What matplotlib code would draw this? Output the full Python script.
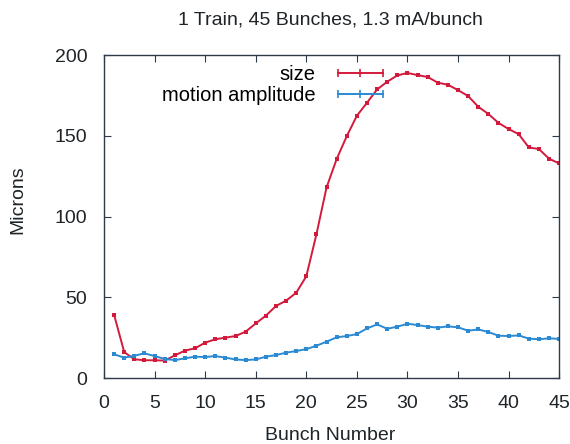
import numpy as np
import matplotlib
matplotlib.use('Agg')
import matplotlib.pyplot as plt
from matplotlib.lines import Line2D

# ── Data ─────────────────────────────────────────────────────────
bunch = list(range(1, 46))
size = [39.0, 16.0, 11.6, 11.0, 11.0, 10.8, 14.0, 17.0, 18.4, 21.9,
        24.0, 25.0, 26.0, 28.7, 33.8, 38.6, 44.6, 47.9, 52.8, 63.0,
        89.0, 118.0, 135.6, 149.8, 162.4, 170.5, 178.7, 183.5, 187.4, 188.9,
        187.6, 186.4, 182.9, 181.6, 178.3, 174.6, 168.0, 163.5, 158.0, 154.2,
        151.0, 142.8, 141.8, 135.8, 132.9]
motion = [14.7, 12.6, 13.8, 15.3, 13.6, 11.8, 11.1, 12.2, 13.2, 13.0,
          13.6, 12.6, 11.5, 11.1, 11.5, 13.2, 14.2, 15.7, 16.7, 17.9,
          20.0, 22.5, 25.2, 26.0, 27.2, 30.7, 33.2, 30.5, 31.8, 33.6,
          32.8, 31.8, 31.2, 32.0, 31.4, 29.3, 30.1, 28.5, 26.2, 26.0,
          26.4, 24.4, 24.0, 24.6, 24.2]
xticks = [0, 5, 10, 15, 20, 25, 30, 35, 40, 45]
yticks = [0, 50, 100, 150, 200]

RED = '#d41a3c'
BLUE = '#2b8ad2'
FRAME = '#2f3a48'
TXT = '#1e2428'
FS = 14

plt.rcParams['font.family'] = ['Liberation Sans', 'DejaVu Sans']

fig = plt.figure(figsize=(5.7, 4.44), dpi=100)
ax = fig.add_axes([0.1825, 0.1486, 0.7985, 0.7274])

ax.plot(bunch, size, color=RED, lw=1.4, marker='s', ms=2.6, mew=0)
ax.plot(bunch, motion, color=BLUE, lw=1.4, marker='s', ms=2.6, mew=0)

ax.set_xlim(0, 45)
ax.set_ylim(0, 200)
ax.set_xticks(xticks)
ax.set_yticks(yticks)
ax.tick_params(direction='in', top=True, right=True, length=5,
               labelsize=FS, color=FRAME, labelcolor=TXT, pad=12)
for s in ax.spines.values():
    s.set_color(FRAME)
    s.set_linewidth(1.0)

fig.text(330 / 570, 1 - 435 / 444, 'Bunch Number', ha='center', va='center',
         fontsize=FS, color=TXT)
fig.text(18 / 570, 1 - 200 / 444, 'Microns', ha='center', va='center',
         rotation=90, fontsize=FS, color=TXT)
fig.text(330 / 570, 1 - 20 / 444, '1 Train, 45 Bunches, 1.3 mA/bunch',
         ha='center', va='center', fontsize=FS, color=TXT)

# legend with gnuplot-like samples (caps at ends, tick in middle)
handles = [Line2D([], [], color=RED, lw=1.4, marker='|', ms=6, mew=1.2),
           Line2D([], [], color=BLUE, lw=1.4, marker='|', ms=6, mew=1.2)]
ax.legend(handles, ['size', 'motion amplitude'], loc='upper right',
          bbox_to_anchor=(0.626, 0.97), frameon=False, markerfirst=False,
          numpoints=3, handlelength=2.85, handletextpad=0.8, fontsize=14.5,
          labelspacing=0.12, borderaxespad=0, borderpad=0)

fig.savefig('out.png', dpi=100)
